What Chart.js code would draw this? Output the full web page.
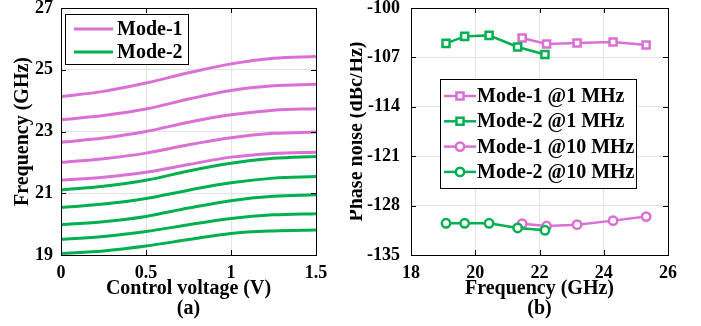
<!DOCTYPE html>
<html>
<head>
<meta charset="utf-8">
<script src="https://cdn.jsdelivr.net/npm/chart.js@4.4.1/dist/chart.umd.min.js"></script>
<style>
  html, body { margin: 0; padding: 0; background: #fff; }
  #wrap { position: relative; width: 701px; height: 326px; }
  canvas { position: absolute; top: 0; }
</style>
</head>
<body>
<div id="wrap">
  <canvas id="left" width="350" height="326" style="left:0"></canvas>
  <canvas id="right" width="351" height="326" style="left:350px"></canvas>
</div>
<script>
// (a) tuning curves
const voltage = [0, 0.25, 0.5, 0.75, 1.0, 1.25, 1.5];
const mode1Curves = [
  [24.13, 24.30, 24.57, 24.90, 25.19, 25.37, 25.43],
  [23.38, 23.52, 23.73, 24.05, 24.33, 24.48, 24.53],
  [22.65, 22.79, 23.00, 23.30, 23.54, 23.69, 23.74],
  [22.00, 22.12, 22.30, 22.57, 22.80, 22.94, 22.98],
  [21.42, 21.52, 21.68, 21.93, 22.17, 22.29, 22.33]
];
const mode2Curves = [
  [21.11, 21.23, 21.42, 21.72, 21.97, 22.13, 22.19],
  [20.54, 20.65, 20.83, 21.10, 21.34, 21.49, 21.54],
  [19.98, 20.08, 20.25, 20.52, 20.76, 20.90, 20.95],
  [19.51, 19.60, 19.76, 19.98, 20.18, 20.30, 20.34],
  [19.05, 19.13, 19.29, 19.50, 19.70, 19.78, 19.81]
];
const leftXTicks = [0, 0.5, 1, 1.5];
const leftYTicks = [19, 21, 23, 25, 27];

// (b) phase noise
const mode1Freq = [21.46, 22.22, 23.17, 24.29, 25.32];
const mode2Freq = [19.09, 19.67, 20.43, 21.32, 22.17];
const mode1Pn1M = [-104.26, -105.11, -104.97, -104.82, -105.25];
const mode2Pn1M = [-105.01, -104.02, -103.88, -105.53, -106.58];
const mode1Pn10M = [-130.56, -130.89, -130.70, -130.13, -129.56];
const mode2Pn10M = [-130.51, -130.51, -130.51, -131.17, -131.50];
const rightXTicks = [18, 20, 22, 24, 26];
const rightYTicks = [-135, -128, -121, -114, -107, -100];

const PINK = '#da70d6';
const GREEN = '#00b050';
const FONT = "'Liberation Serif', 'Times New Roman', serif";

function pts(xs, ys) {
  return xs.map((x, i) => ({ x: x, y: ys[i] }));
}

function marker(ctx, style, r, x, y) {
  ctx.beginPath();
  if (style === 'rect') {
    const s = r * Math.SQRT1_2;
    ctx.rect(x - s, y - s, 2 * s, 2 * s);
  } else {
    ctx.arc(x, y, r, 0, Math.PI * 2);
  }
  ctx.fill();
  ctx.stroke();
}

// frame, inward ticks and in-plot legend (MATLAB look)
const framePlugin = {
  id: 'frame',
  afterDraw(chart, args, opts) {
    const ctx = chart.ctx;
    const a = chart.chartArea;
    const xs = chart.scales.x, ys = chart.scales.y;
    ctx.save();
    ctx.strokeStyle = '#000';
    ctx.lineWidth = 1;
    ctx.beginPath();
    xs.ticks.forEach(t => {
      const px = Math.round(xs.getPixelForValue(t.value)) + 0.5;
      ctx.moveTo(px, a.bottom); ctx.lineTo(px, a.bottom - 5);
      ctx.moveTo(px, a.top); ctx.lineTo(px, a.top + 5);
    });
    ys.ticks.forEach(t => {
      const py = Math.round(ys.getPixelForValue(t.value)) + 0.5;
      ctx.moveTo(a.left, py); ctx.lineTo(a.left + 5, py);
      ctx.moveTo(a.right, py); ctx.lineTo(a.right - 5, py);
    });
    ctx.stroke();
    ctx.strokeRect(Math.round(a.left) + 0.5, Math.round(a.top) + 0.5,
      Math.round(a.right - a.left), Math.round(a.bottom - a.top));

    // legend
    const L = opts.legend;
    ctx.fillStyle = '#fff';
    ctx.fillRect(L.x, L.y, L.w, L.h);
    ctx.strokeStyle = '#000';
    ctx.lineWidth = 1;
    ctx.strokeRect(L.x + 0.5, L.y + 0.5, L.w, L.h);
    L.items.forEach((idx, i) => {
      const ds = chart.data.datasets[idx];
      const y = L.rowY + i * L.rowH;
      ctx.strokeStyle = ds.borderColor;
      ctx.lineWidth = ds.borderWidth;
      ctx.beginPath();
      ctx.moveTo(L.lineX0, y); ctx.lineTo(L.lineX1, y);
      ctx.stroke();
      if (ds.pointRadius) {
        ctx.fillStyle = '#fff';
        ctx.lineWidth = ds.pointBorderWidth;
        marker(ctx, ds.pointStyle, ds.pointRadius, (L.lineX0 + L.lineX1) / 2, y);
      }
      ctx.fillStyle = '#000';
      ctx.font = 'bold 20px ' + FONT;
      ctx.textAlign = 'left';
      ctx.textBaseline = 'middle';
      ctx.fillText(ds.label, L.textX, y + 1);
    });
    ctx.restore();
  }
};

function axes(xMin, xMax, xTicks, yMin, yMax, yTicks, xTitle, yTitle, yTitlePad, yTickPad) {
  const tickFont = { family: FONT, size: 18, weight: 'bold' };
  const titleFont = { family: FONT, size: 20, weight: 'bold', lineHeight: 1 };
  return {
    x: {
      type: 'linear', min: xMin, max: xMax,
      afterBuildTicks: s => { s.ticks = xTicks.map(v => ({ value: v })); },
      afterFit: s => { s.height = 71; s.paddingLeft = 0; s.paddingRight = 0; },
      grid: { color: '#e4e4e4', drawTicks: false },
      border: { display: false },
      ticks: { color: '#000', font: tickFont, padding: 8, maxRotation: 0, callback: v => String(v) },
      title: { display: true, text: xTitle, color: '#000', font: titleFont, padding: { top: 0, bottom: 7 } }
    },
    y: {
      type: 'linear', min: yMin, max: yMax,
      afterBuildTicks: s => { s.ticks = yTicks.map(v => ({ value: v })); },
      afterFit: s => { s.width = 61; s.paddingTop = 0; s.paddingBottom = 0; },
      grid: { color: '#e4e4e4', drawTicks: false },
      border: { display: false },
      ticks: { color: '#000', font: tickFont, padding: yTickPad, callback: v => String(v) },
      title: { display: true, text: yTitle, color: '#000', font: titleFont, padding: { top: yTitlePad, bottom: 0 } }
    }
  };
}

// left chart
const leftSets = [];
mode1Curves.forEach(c => leftSets.push({
  label: 'Mode-1', data: pts(voltage, c), borderColor: PINK, borderWidth: 3,
  pointRadius: 0, cubicInterpolationMode: 'monotone', fill: false
}));
mode2Curves.forEach(c => leftSets.push({
  label: 'Mode-2', data: pts(voltage, c), borderColor: GREEN, borderWidth: 3,
  pointRadius: 0, cubicInterpolationMode: 'monotone', fill: false
}));

new Chart(document.getElementById('left'), {
  type: 'line',
  data: { datasets: leftSets },
  options: {
    responsive: false, animation: false,
    layout: { padding: { left: 0, right: 34, top: 8, bottom: 0 } },
    plugins: {
      legend: { display: false }, tooltip: { enabled: false },
      frame: { legend: { x: 65, y: 14, w: 123, h: 50, rowY: 29, rowH: 23, lineX0: 74, lineX1: 113, textX: 117, items: [0, 5] } }
    },
    scales: axes(0, 1.5, leftXTicks, 19, 27, leftYTicks,
      ['Control voltage (V)', '(a)'], 'Frequency (GHz)', 13, 8)
  },
  plugins: [framePlugin]
});

// right chart
const rightSets = [
  { label: 'Mode-1 @1 MHz', data: pts(mode1Freq, mode1Pn1M), borderColor: PINK, pointStyle: 'rect', order: 2 },
  { label: 'Mode-2 @1 MHz', data: pts(mode2Freq, mode2Pn1M), borderColor: GREEN, pointStyle: 'rect', order: 0 },
  { label: 'Mode-1 @10 MHz', data: pts(mode1Freq, mode1Pn10M), borderColor: PINK, pointStyle: 'circle', order: 3 },
  { label: 'Mode-2 @10 MHz', data: pts(mode2Freq, mode2Pn10M), borderColor: GREEN, pointStyle: 'circle', order: 1 }
].map(d => Object.assign(d, {
  borderWidth: 2.5, pointRadius: d.pointStyle === 'rect' ? 5 : 4.2, pointBorderWidth: 2.5,
  pointBackgroundColor: '#fff', pointBorderColor: d.borderColor, tension: 0, fill: false
}));

new Chart(document.getElementById('right'), {
  type: 'line',
  data: { datasets: rightSets },
  options: {
    responsive: false, animation: false,
    layout: { padding: { left: 0, right: 33, top: 8, bottom: 0 } },
    plugins: {
      legend: { display: false }, tooltip: { enabled: false },
      frame: { legend: { x: 90, y: 79, w: 196, h: 109, rowY: 96, rowH: 25.3, lineX0: 94, lineX1: 126, textX: 127, items: [0, 1, 2, 3] } }
    },
    scales: axes(18, 26, rightXTicks, -135, -100, rightYTicks,
      ['Frequency (GHz)', '(b)'], 'Phase noise (dBc/Hz)', -3, 11)
  },
  plugins: [framePlugin]
});
</script>
</body>
</html>
